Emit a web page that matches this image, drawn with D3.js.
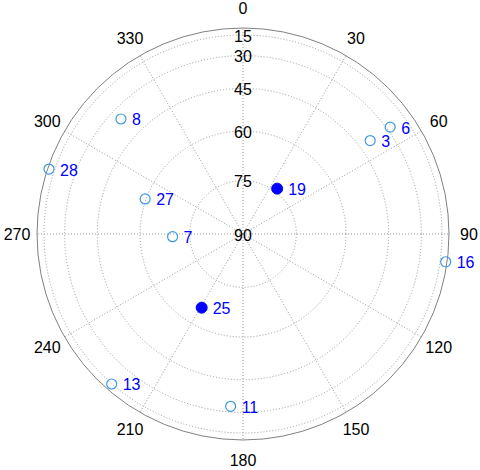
<!DOCTYPE html>
<html><head><meta charset="utf-8">
<script src="https://cdn.jsdelivr.net/npm/d3@7"></script>
<style>body{margin:0;background:#fff}svg{display:block}</style>
</head><body>
<svg id="c" width="480" height="470"></svg>
<script>
const prn = ["19","6","3","16","11","13","25","7","27","28","8"];
const azimuth = [37, 54, 53.7, 97.8, 184.1, 221.2, 209.3, 267.8, 289.7, 288.5, 313.3];
const elevation = [74, 28, 40, 6.7, 33, 14.6, 65.8, 70, 59.7, 6.7, 35.5];
const filled = [true,false,false,false,false,false,true,false,false,false,false];
const azTicks = [0,30,60,90,120,150,180,210,240,270,300,330];
const elTicks = [15,30,45,60,75,90];

const svg = d3.select("#c");
const cx = 243, cy = 234, R = 206;
const g = svg.append("g").attr("transform", `translate(${cx},${cy})`);
// orthographic projection: radius = R*cos(elevation)
const rScale = d3.scaleLinear().domain([0,1]).range([0,R]);
const rad = el => rScale(Math.cos(el*Math.PI/180));
const angle = d3.scaleLinear().domain([0,360]).range([0,2*Math.PI]);
const px = (az, el) => rad(el)*Math.sin(angle(az));
const py = (az, el) => -rad(el)*Math.cos(angle(az));

const dotted = {stroke:"#9a9a9a", "stroke-width":1, "stroke-dasharray":"1,2", fill:"none"};
function applyAttrs(sel, a){ for (const k in a) sel.attr(k, a[k]); return sel; }

// rings
elTicks.filter(e=>e<90).forEach(e=>{
  applyAttrs(g.append("circle").attr("r", rad(e)), dotted);
});
// spokes
azTicks.forEach(a=>{
  applyAttrs(g.append("line").attr("x1",0).attr("y1",0)
    .attr("x2", px(a,0)).attr("y2", py(a,0)), dotted);
});
// outer circle
g.append("circle").attr("r", rad(0)).attr("fill","none").attr("stroke","#808080").attr("stroke-width",1);

// azimuth labels
const labR = 226;
azTicks.forEach(a=>{
  g.append("text").attr("x", labR*Math.sin(angle(a))).attr("y", -labR*Math.cos(angle(a)))
    .attr("text-anchor","middle").attr("dominant-baseline","central")
    .attr("font-family","Liberation Sans, Arial, sans-serif").attr("font-size",16)
    .attr("fill","#000").text(a);
});
// elevation labels
elTicks.forEach(e=>{
  g.append("text").attr("x", 0).attr("y", py(0,e)+1)
    .attr("text-anchor","middle").attr("dominant-baseline","central")
    .attr("font-family","Liberation Sans, Arial, sans-serif").attr("font-size",16)
    .attr("fill","#000").text(e);
});

// satellites
prn.forEach((p,i)=>{
  const x = px(azimuth[i], elevation[i]), y = py(azimuth[i], elevation[i]);
  if (filled[i]) {
    g.append("circle").attr("cx",x).attr("cy",y).attr("r",5.5).attr("fill","#0000ff").attr("stroke","#0000ff");
  } else {
    g.append("circle").attr("cx",x).attr("cy",y).attr("r",5).attr("fill","none").attr("stroke","#3b9ae1").attr("stroke-width",1.2);
  }
  g.append("text").attr("x", x+11).attr("y", y+1)
    .attr("dominant-baseline","central")
    .attr("font-family","Liberation Sans, Arial, sans-serif").attr("font-size",16)
    .attr("fill","#0000ff").text(p);
});
</script>
</body></html>
